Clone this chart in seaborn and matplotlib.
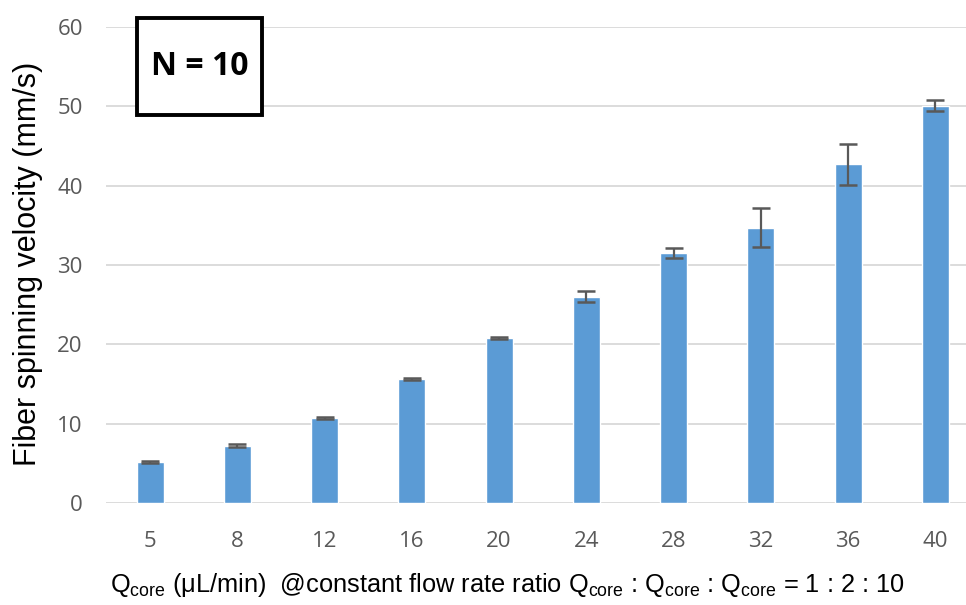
import matplotlib
matplotlib.use("Agg")
import matplotlib.pyplot as plt
import seaborn as sns
import pandas as pd
from matplotlib.patches import Rectangle
from matplotlib import font_manager

# Data
q_core = ["5", "8", "12", "16", "20", "24", "28", "32", "36", "40"]
velocity = [5.2, 7.2, 10.7, 15.6, 20.8, 26.0, 31.5, 34.7, 42.7, 50.1]
velocity_err = [0.15, 0.2, 0.15, 0.15, 0.15, 0.7, 0.65, 2.45, 2.6, 0.7]
y_ticks = [0, 10, 20, 30, 40, 50, 60]

sns.set_style("white")

available = {f.name for f in font_manager.fontManager.ttflist}
narrow = "Liberation Sans"
for cand in ["Liberation Sans Narrow", "DejaVu Sans Condensed", "Liberation Sans"]:
    if cand in available:
        narrow = cand
        break

plt.rcParams["mathtext.fontset"] = "custom"
plt.rcParams["mathtext.rm"] = narrow
plt.rcParams["mathtext.it"] = narrow

df = pd.DataFrame({"q": q_core, "v": velocity})

fig = plt.figure(figsize=(9.66, 6.05), dpi=100)
ax = fig.add_axes([0.1102, 0.1686, 0.9032, 0.7868])

sns.barplot(data=df, x="q", y="v", order=q_core, color="#5B9BD5",
            saturation=1, width=0.31, ax=ax, zorder=3)
ax.errorbar(range(len(q_core)), velocity, yerr=velocity_err, fmt="none",
            ecolor="#595959", elinewidth=1.6, capsize=6.5, capthick=1.8, zorder=4)

ax.set_ylim(0, 60)
ax.set_xlim(-0.5, len(q_core) - 0.5)
ax.set_yticks(y_ticks)
ax.yaxis.grid(True, color="#D9D9D9", linewidth=1.3, zorder=0)
ax.set_axisbelow(True)
for s in ax.spines.values():
    s.set_visible(False)
ax.tick_params(axis="both", length=0, labelsize=16, labelcolor="#595959")
ax.tick_params(axis="x", pad=20)
ax.tick_params(axis="y", pad=17)
for lab in ax.get_xticklabels() + ax.get_yticklabels():
    lab.set_fontfamily("Open Sans")

ax.set_ylabel("Fiber spinning velocity (mm/s)", fontsize=22,
              fontfamily="Liberation Sans", color="black")
ax.yaxis.set_label_coords(-0.073, 0.503)

xl = ax.set_xlabel(r"Q$_{\mathrm{core}}$ (μL/min)  @constant flow rate ratio "
                   r"Q$_{\mathrm{core}}$ : Q$_{\mathrm{core}}$ : Q$_{\mathrm{core}}$ = 1 : 2 : 10",
                   fontsize=17, fontfamily=narrow, color="black")
ax.xaxis.set_label_coords(0.459, -0.142)

# fit label width to the reference's extent (~795 px)
renderer = fig.canvas.get_renderer()
w = xl.get_window_extent(renderer).width
xl.set_fontsize(17 * 795.0 / w)

rect = Rectangle((0.035, 0.815), 0.143, 0.204, transform=ax.transAxes,
                 facecolor="white", edgecolor="black", linewidth=2.8,
                 clip_on=False, zorder=6)
ax.add_patch(rect)
ax.text(0.1066, 0.917, "N = 10", transform=ax.transAxes, ha="center",
        va="center", fontsize=23, fontweight="bold", fontfamily="Open Sans",
        color="black", zorder=7)

fig.savefig("out.png", dpi=100)
